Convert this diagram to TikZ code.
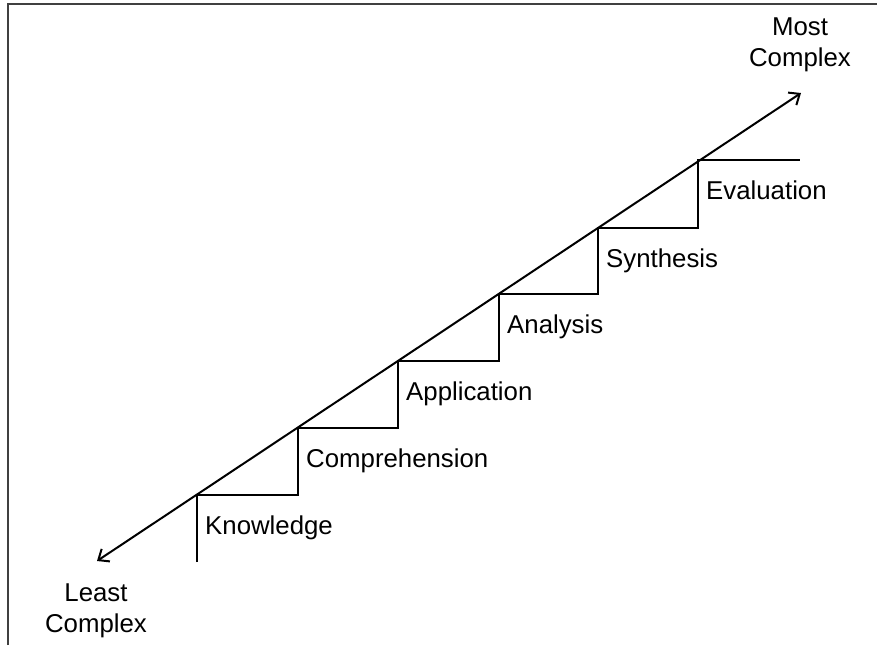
\documentclass[tikz,border=0pt]{standalone}
\usepackage{fontspec}
\setmainfont{Liberation Sans}
\usetikzlibrary{arrows.meta}

\begin{document}
\begin{tikzpicture}[
		x=1pt,y=-1pt,
		level/.style = {
			anchor=base west,inner sep=0pt,
			font=\fontsize{25.8}{31}\selectfont
		},
		extreme/.style = {
			align=center,inner sep=0pt,
			font=\fontsize{25.8}{31}\selectfont
		},
		stairs/.style = {line width=1.1pt,black},
		axis/.style = {line width=2pt,black,{Straight Barb[length=9pt,width=15pt,line width=2pt]}-{Straight Barb[length=9pt,width=15pt,line width=2pt]}},
		frameline/.style = {line width=2pt,black!75}]
		\useasboundingbox (0,0) rectangle (877,645);
		\draw[frameline] (8,645) -- (8,4) -- (877,4);

		% corners of the steps
		\coordinate (foot) at (197,562);
		\coordinate (know) at (197,495);
		\coordinate (comp) at (298,428);
		\coordinate (appl) at (398,361);
		\coordinate (anal) at (499,294);
		\coordinate (synt) at (598,228);
		\coordinate (eval) at (698,160);
		\coordinate (ledge) at (800,160);
		\coordinate (low) at (97,561);
		\coordinate (high) at (801,93);

		\draw[stairs] (foot) -- (know) -| (comp) -| (appl) -| (anal) -| (synt) -| (eval) -- (ledge);
		\draw[axis] (low) -- (high);

		\node[level] (knowtext) at ([shift={(8,39)}]know) {Knowledge};
		\node[level] (comptext) at ([shift={(8,39)}]comp) {Comprehension};
		\node[level] (appltext) at ([shift={(8,39)}]appl) {Application};
		\node[level] (analtext) at ([shift={(8,39)}]anal) {Analysis};
		\node[level] (synttext) at ([shift={(8,39)}]synt) {Synthesis};
		\node[level] (evaltext) at ([shift={(8,39)}]eval) {Evaluation};

		\node[extreme] (most) at (800,45) {Most\\Complex};
		\node[extreme] (least) at (96,611) {Least\\Complex};
\end{tikzpicture}
\end{document}
